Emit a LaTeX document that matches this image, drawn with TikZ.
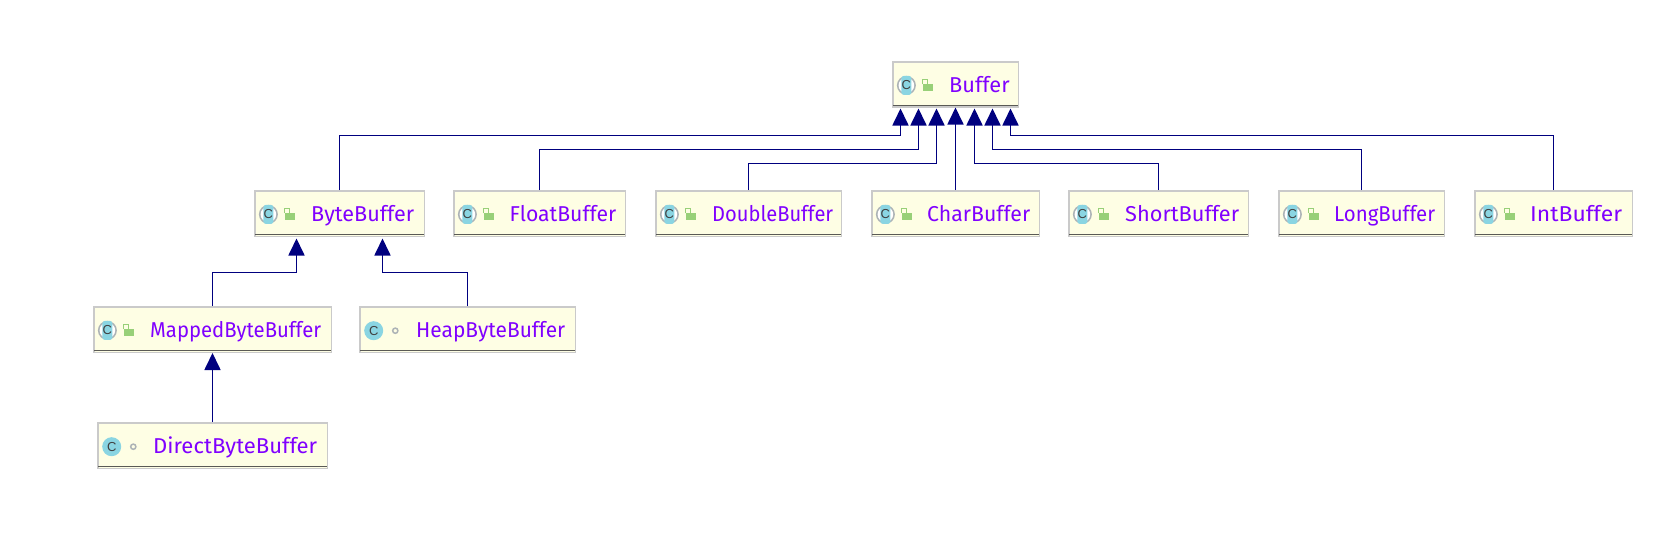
\documentclass[tikz,border=0pt]{standalone}
\usepackage{fontspec}
\setmainfont{Fira Sans}
\newfontfamily\iconfont{Liberation Sans}
\usetikzlibrary{arrows.meta}
\definecolor{boxfill}{HTML}{FEFEE4}
\definecolor{boxedge}{HTML}{CACACA}
\definecolor{boxbase}{HTML}{5A5A55}
\definecolor{namecol}{HTML}{8000FF}
\definecolor{edgecol}{HTML}{00007F}
\definecolor{iconteal}{HTML}{8AD5E2}
\definecolor{icongray}{HTML}{ADB3B6}
\definecolor{lockgreen}{HTML}{98D078}
\tikzset{
  umlbox/.style={draw=boxedge,fill=boxfill,line width=1.5pt,inner sep=0pt},
  umlname/.style={anchor=base west,inner sep=0pt,text=namecol,font=\fontsize{21.5}{23}\selectfont},
  iconletter/.style={inner sep=0pt,text=black!75,font=\iconfont\fontsize{13}{13}\selectfont},
  inh/.style={draw=edgecol,line width=1.7pt,line join=miter,-{Triangle[width=16pt,length=17pt]},shorten >=0pt}
}
% name, left, right, top, bottom, text left, text right, text
\newcommand{\umlclass}[8]{%
  \node[umlbox,minimum width={#3-#2-1.5},minimum height={#5-#4-0.5}] (#1) at ({(#2+#3)/2},{(#4+#5)/2-0.5}) {};
  \draw[boxbase,line width=1.3pt] (#2+1,#5-2.2) -- (#3-1.4,#5-2.2);
  \node[umlname] (#1-name) at (#6,#4+30.2) {\resizebox{\dimexpr#7pt-#6pt\relax}{\height}{#8}};
}
% abstract class icon and open lock
\newcommand{\absicon}[2]{%
  \begin{scope}[shift={(#1+14.4,#2+23.4)}]
    \fill[icongray] (0,0) circle (9.5);
    \fill[white] (0,0) circle (7.8);
    \fill[iconteal,rounded corners=2.5pt] (-5,-9.5) rectangle (5,9.5);
    \node[iconletter] at (0,0) {C};
  \end{scope}
  \begin{scope}[shift={(#1,#2+23.4)}]
    \fill[lockgreen] (31.4,-1) rectangle (40.8,6);
    \draw[lockgreen,line width=1pt] (30.4,-1) -- (30.4,-5.6) -- (35,-5.6) -- (35,-1);
  \end{scope}
}
% concrete class icon and package dot
\newcommand{\conicon}[2]{%
  \begin{scope}[shift={(#1+14.7,#2+23.7)}]
    \fill[iconteal] (0,0) circle (9.5);
    \node[iconletter] at (0,0) {C};
    \draw[icongray,line width=1.5pt] (21.6,0) circle (2.6);
  \end{scope}
}
\begin{document}
\begin{tikzpicture}[x=1pt,y=-1pt]
\useasboundingbox (0,0) rectangle (1666,538);
\umlclass{buffer}{892}{1019}{62}{107.5}{949}{1009.5}{Buffer}
\umlclass{byte}{254}{425}{191}{237}{311}{414}{ByteBuffer}
\umlclass{float}{453}{626}{191}{237}{509.5}{616}{FloatBuffer}
\umlclass{double}{655}{842}{191}{237}{712}{833}{DoubleBuffer}
\umlclass{char}{871}{1040}{191}{237}{927}{1030}{CharBuffer}
\umlclass{short}{1068}{1249}{191}{237}{1125}{1239}{ShortBuffer}
\umlclass{long}{1278}{1445}{191}{237}{1334}{1435}{LongBuffer}
\umlclass{int}{1474}{1633}{191}{237}{1530}{1622}{IntBuffer}
\umlclass{mapped}{93}{332}{307}{353}{150}{321}{MappedByteBuffer}
\umlclass{heap}{359}{576}{307}{353}{416}{565}{HeapByteBuffer}
\umlclass{direct}{97}{328}{423}{469}{153}{317}{DirectByteBuffer}
\absicon{892}{62}\absicon{254}{191}\absicon{453}{191}\absicon{655}{191}
\absicon{871}{191}\absicon{1068}{191}\absicon{1278}{191}\absicon{1474}{191}
\absicon{93}{307}
\conicon{359}{307}\conicon{97}{423}
% arrow tips under the parent boxes
\coordinate (t1) at (900.5,108.5);
\coordinate (t2) at (918.5,108.5);
\coordinate (t3) at (936.5,108.5);
\coordinate (t5) at (974.5,108.5);
\coordinate (t6) at (992.5,108.5);
\coordinate (t7) at (1010.5,108.5);
\coordinate (u1) at (296.5,238.5);
\coordinate (u2) at (382.5,238.5);
\draw[inh] (byte.north) |- (900.5,135.5) -- (t1);
\draw[inh] (float.north) |- (918.5,149.5) -- (t2);
\draw[inh] (double.north) |- (936.5,163.5) -- (t3);
\draw[inh] (char.north) -- (char.north |- buffer.south);
\draw[inh] (short.north) |- (974.5,163.5) -- (t5);
\draw[inh] (long.north) |- (992.5,149.5) -- (t6);
\draw[inh] (int.north) |- (1010.5,135.5) -- (t7);
\draw[inh] (mapped.north) |- (296.5,272.5) -- (u1);
\draw[inh] (heap.north) |- (382.5,272.5) -- (u2);
\draw[inh] (direct.north) -- (direct.north |- mapped.south);
\end{tikzpicture}
\end{document}
